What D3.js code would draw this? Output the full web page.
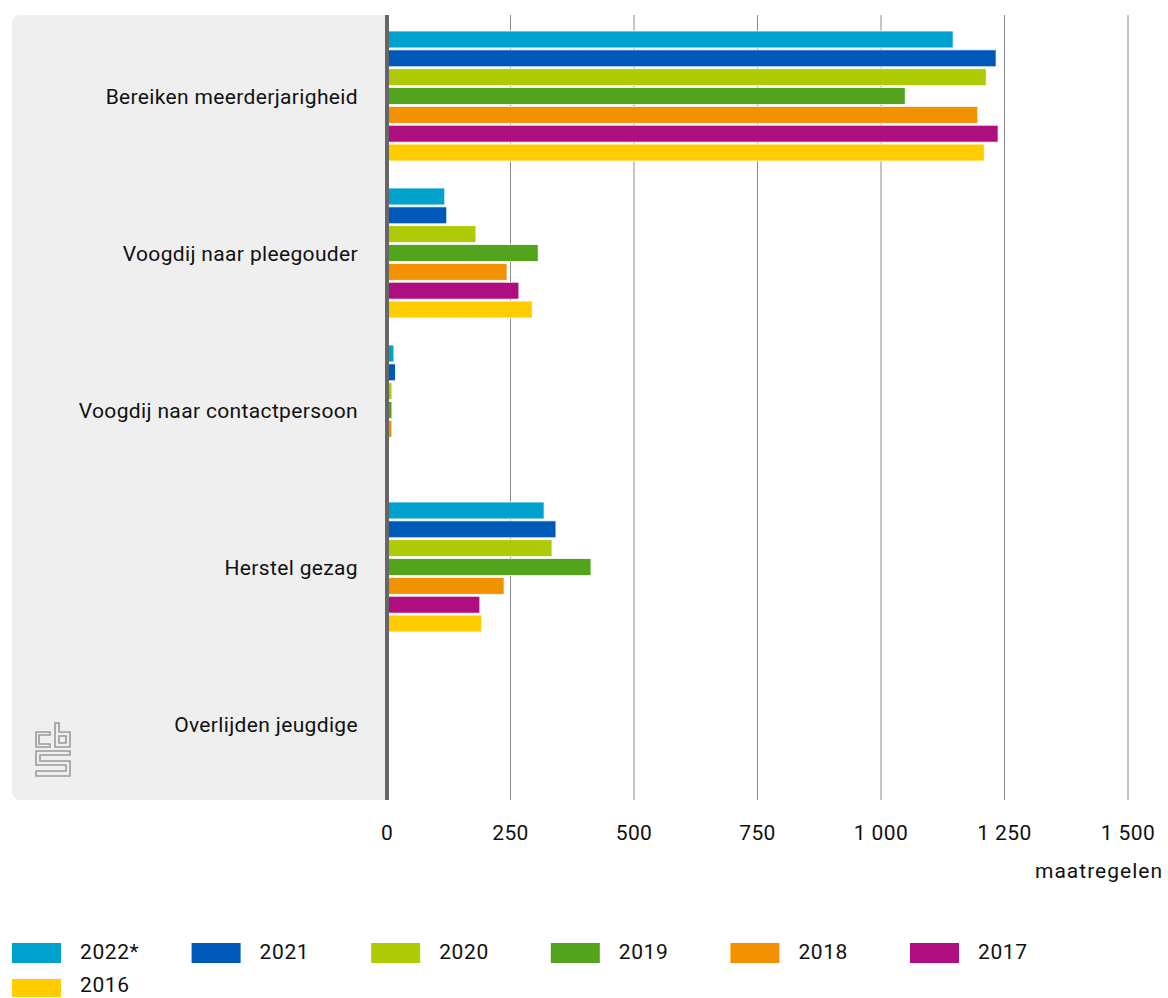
<!DOCTYPE html>
<html><head><meta charset="utf-8">
<script src="https://cdn.jsdelivr.net/npm/d3@7"></script>
<style>body{margin:0;background:#fff;} text{font-family:"Roboto","Noto Sans",sans-serif;fill:#111;}</style>
</head><body>
<svg id="c" width="1168" height="998"></svg>
<script>
const categories = ["Bereiken meerderjarigheid","Voogdij naar pleegouder","Voogdij naar contactpersoon","Herstel gezag","Overlijden jeugdige"];
const years = ["2022*","2021","2020","2019","2018","2017","2016"];
const colors = ["#00a1cd","#0058b8","#afcb05","#53a31d","#f39200","#af0e80","#ffcc00"];
const v2022 = [1146, 117, 14, 318, 0];
const v2021 = [1233, 121, 17, 342, 0];
const v2020 = [1213, 180, 10, 334, 0];
const v2019 = [1049, 306, 10, 413, 0];
const v2018 = [1196, 243, 10, 237, 0];
const v2017 = [1237, 267, 0, 188, 0];
const v2016 = [1209, 294, 0, 192, 0];
const series = [v2022,v2021,v2020,v2019,v2018,v2017,v2016];
const ticks = [0,250,500,750,1000,1250,1500];
const tickLabels = ["0","250","500","750","1 000","1 250","1 500"];
const unitLabel = "maatregelen";

const svg = d3.select("#c");
const x = d3.scaleLinear().domain([0,1500]).range([387,1128]);
const y = d3.scaleBand().domain(categories).range([15,800]);
const yi = d3.scaleBand().domain(years).range([16,146]).paddingInner(0.1);

svg.append("rect").attr("x",12).attr("y",15).attr("width",380).attr("height",785).attr("rx",8).attr("fill","#efefef");
svg.append("rect").attr("x",387).attr("y",15).attr("width",781).attr("height",785).attr("fill","#fff");

// grid
svg.append("g").selectAll("line").data(ticks.slice(1)).join("line")
  .attr("x1",d=>x(d)).attr("x2",d=>x(d)).attr("y1",15).attr("y2",800)
  .attr("stroke","#8a8a8a").attr("stroke-width",1);

// bars
const data = [];
categories.forEach((c,ci)=>years.forEach((yr,yi_)=>data.push({c,yr,v:series[yi_][ci],col:colors[yi_]})));
svg.append("g").selectAll("rect").data(data.filter(d=>d.v>0)).join("rect")
  .attr("x",x(0)).attr("y",d=>y(d.c)+yi(d.yr))
  .attr("width",d=>x(d.v)-x(0)).attr("height",yi.bandwidth())
  .attr("fill",d=>d.col).attr("stroke","#fff").attr("stroke-width",0.8);

// axis line
svg.append("rect").attr("x",385).attr("y",15).attr("width",4).attr("height",785).attr("fill","#666");

const fs = 21;
// category labels
svg.append("g").selectAll("text").data(categories).join("text")
  .attr("x",358).attr("y",d=>y(d)+y.bandwidth()/2+10)
  .attr("text-anchor","end").attr("font-size",fs).attr("letter-spacing",0.35).text(d=>d);

// tick labels
svg.append("g").selectAll("text").data(ticks).join("text")
  .attr("x",d=>x(d)).attr("y",840).attr("text-anchor","middle").attr("font-size",fs).attr("letter-spacing",0.4)
  .text((d,i)=>tickLabels[i]);
svg.append("text").attr("x",1163).attr("y",878).attr("text-anchor","end").attr("font-size",fs).attr("letter-spacing",1).text(unitLabel);

// legend
const lg = svg.append("g");
years.forEach((yr,i)=>{
  const col = i%6, row = Math.floor(i/6);
  const lx = 12 + col*179.6, ly = 943 + row*36;
  lg.append("rect").attr("x",lx).attr("y",ly).attr("width",49).attr("height",row?18:20).attr("fill",colors[i]);
  lg.append("text").attr("x",lx+68).attr("y",ly+15.5 - row*3).attr("font-size",fs).attr("letter-spacing",0.6).text(yr);
});

// cbs logo
const logo = svg.append("g").attr("fill","none").attr("stroke","#9a9a9a").attr("stroke-width",1.6);
logo.append("path").attr("d","M50,732 H36 V747 H50 V744 H39 V735 H50 Z");
logo.append("path").attr("d","M55,723 H59 V732 H70 V747 H55 Z M59,736 V743 H66 V736 Z");
logo.append("path").attr("d","M70,751 H36 V765 H66 V771 H36 V776 H70 V761 H40 V755 H70 Z");
</script>
</body></html>
